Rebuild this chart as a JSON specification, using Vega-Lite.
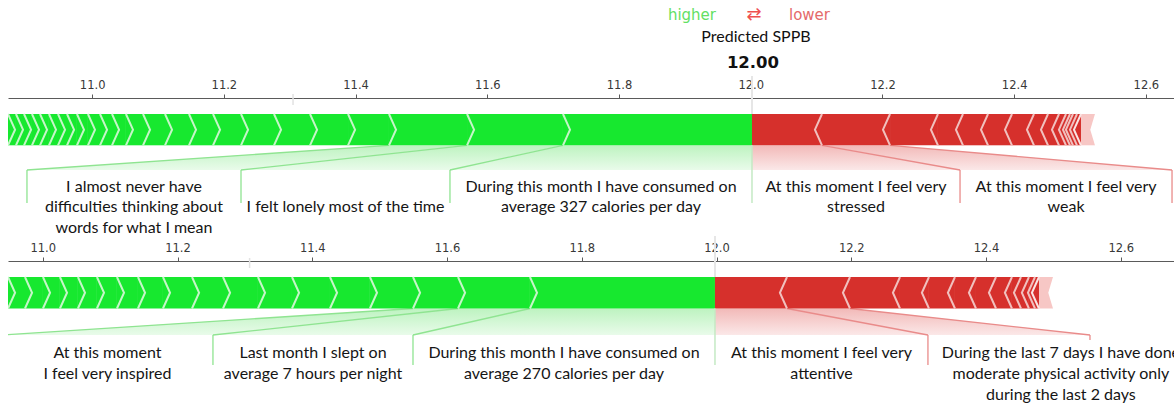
{
"$schema":"https://vega.github.io/schema/vega-lite/v6.json",
"width":1166,"height":405,
"autosize":{"type":"none"},
"padding":{"left":8,"top":0,"right":0,"bottom":0},
"background":"white",
"config":{"view":{"stroke":null},"axis":{"grid":false}},
"datasets":{
"predTop":[{"value":12.0019,"base":11.305}],
"predBot":[{"value":11.9977,"base":11.307}],
"segTop":[
{"side":"higher","rank":1,"x":11.7149,"x2":12.0019},
{"side":"higher","rank":2,"x":11.5692,"x2":11.7149},
{"side":"higher","rank":3,"x":11.4507,"x2":11.5692},
{"side":"higher","rank":4,"x":11.3885,"x2":11.4507},
{"side":"higher","rank":5,"x":11.3308,"x2":11.3885},
{"side":"higher","rank":6,"x":11.2761,"x2":11.3308},
{"side":"higher","rank":7,"x":11.226,"x2":11.2761},
{"side":"higher","rank":8,"x":11.1835,"x2":11.226},
{"side":"higher","rank":9,"x":11.147,"x2":11.1835},
{"side":"higher","rank":10,"x":11.1106,"x2":11.147},
{"side":"higher","rank":11,"x":11.0772,"x2":11.1106},
{"side":"higher","rank":12,"x":11.0513,"x2":11.0772},
{"side":"higher","rank":13,"x":11.0301,"x2":11.0513},
{"side":"higher","rank":14,"x":11.0119,"x2":11.0301},
{"side":"higher","rank":15,"x":10.9936,"x2":11.0119},
{"side":"higher","rank":16,"x":10.9769,"x2":10.9936},
{"side":"higher","rank":17,"x":10.9618,"x2":10.9769},
{"side":"higher","rank":18,"x":10.9481,"x2":10.9618},
{"side":"higher","rank":19,"x":10.9344,"x2":10.9481},
{"side":"higher","rank":20,"x":10.9208,"x2":10.9344},
{"side":"higher","rank":21,"x":10.9086,"x2":10.9208},
{"side":"higher","rank":22,"x":10.8965,"x2":10.9086},
{"side":"higher","rank":23,"x":10.8843,"x2":10.8965},
{"side":"higher","rank":24,"x":10.8722,"x2":10.8843},
{"side":"higher","rank":25,"x":10.86,"x2":10.8722},
{"side":"lower","rank":1,"x":12.0019,"x2":12.1082},
{"side":"lower","rank":2,"x":12.1082,"x2":12.2115},
{"side":"lower","rank":3,"x":12.2115,"x2":12.2843},
{"side":"lower","rank":4,"x":12.2843,"x2":12.3223},
{"side":"lower","rank":5,"x":12.3223,"x2":12.3603},
{"side":"lower","rank":6,"x":12.3603,"x2":12.3967},
{"side":"lower","rank":7,"x":12.3967,"x2":12.4301},
{"side":"lower","rank":8,"x":12.4301,"x2":12.4514},
{"side":"lower","rank":9,"x":12.4514,"x2":12.4681},
{"side":"lower","rank":10,"x":12.4681,"x2":12.4787},
{"side":"lower","rank":11,"x":12.4787,"x2":12.4848},
{"side":"lower","rank":12,"x":12.4848,"x2":12.4893},
{"side":"lower","rank":13,"x":12.4893,"x2":12.4954},
{"side":"lower","rank":14,"x":12.4954,"x2":12.5015},
{"side":"tail","rank":15,"x":12.5015,"x2":12.5227}
],
"segBot":[
{"side":"higher","rank":1,"x":11.7231,"x2":11.9977},
{"side":"higher","rank":2,"x":11.6163,"x2":11.7231},
{"side":"higher","rank":3,"x":11.5495,"x2":11.6163},
{"side":"higher","rank":4,"x":11.4856,"x2":11.5495},
{"side":"higher","rank":5,"x":11.4263,"x2":11.4856},
{"side":"higher","rank":6,"x":11.3699,"x2":11.4263},
{"side":"higher","rank":7,"x":11.3194,"x2":11.3699},
{"side":"higher","rank":8,"x":11.2675,"x2":11.3194},
{"side":"higher","rank":9,"x":11.2215,"x2":11.2675},
{"side":"higher","rank":10,"x":11.1784,"x2":11.2215},
{"side":"higher","rank":11,"x":11.1413,"x2":11.1784},
{"side":"higher","rank":12,"x":11.1101,"x2":11.1413},
{"side":"higher","rank":13,"x":11.0804,"x2":11.1101},
{"side":"higher","rank":14,"x":11.0522,"x2":11.0804},
{"side":"higher","rank":15,"x":11.0255,"x2":11.0522},
{"side":"higher","rank":16,"x":11.0003,"x2":11.0255},
{"side":"higher","rank":17,"x":10.9736,"x2":11.0003},
{"side":"higher","rank":18,"x":10.9484,"x2":10.9736},
{"side":"higher","rank":19,"x":10.93,"x2":10.9484},
{"side":"lower","rank":1,"x":11.9977,"x2":12.1046},
{"side":"lower","rank":2,"x":12.1046,"x2":12.1981},
{"side":"lower","rank":3,"x":12.1981,"x2":12.2723},
{"side":"lower","rank":4,"x":12.2723,"x2":12.3153},
{"side":"lower","rank":5,"x":12.3153,"x2":12.3539},
{"side":"lower","rank":6,"x":12.3539,"x2":12.3851},
{"side":"lower","rank":7,"x":12.3851,"x2":12.4148},
{"side":"lower","rank":8,"x":12.4148,"x2":12.4385},
{"side":"lower","rank":9,"x":12.4385,"x2":12.4519},
{"side":"lower","rank":10,"x":12.4519,"x2":12.4637},
{"side":"lower","rank":11,"x":12.4637,"x2":12.4727},
{"side":"lower","rank":12,"x":12.4727,"x2":12.4786},
{"side":"tail","rank":13,"x":12.4786,"x2":12.4994}
],
"featTop":[
{"feature":"A","side":"higher","b0":11.4507,"b1":11.5692,"l0":10.901,"l1":11.226},
{"feature":"B","side":"higher","b0":11.5692,"b1":11.7149,"l0":11.226,"l1":11.5433},
{"feature":"C","side":"higher","b0":11.7149,"b1":12.0019,"l0":11.5433,"l1":12.0019},
{"feature":"D","side":"lower","b0":12.0019,"b1":12.1082,"l0":12.0019,"l1":12.3178},
{"feature":"E","side":"lower","b0":12.1082,"b1":12.2115,"l0":12.3178,"l1":12.6397}
],
"featBot":[
{"feature":"F","side":"higher","b0":11.5495,"b1":11.6163,"l0":10.9394,"l1":11.2526},
{"feature":"G","side":"higher","b0":11.6163,"b1":11.7231,"l0":11.2526,"l1":11.5495},
{"feature":"H","side":"higher","b0":11.7231,"b1":11.9977,"l0":11.5495,"l1":11.9977},
{"feature":"I","side":"lower","b0":11.9977,"b1":12.1046,"l0":11.9977,"l1":12.3138},
{"feature":"J","side":"lower","b0":12.1046,"b1":12.1981,"l0":12.3138,"l1":12.5543}
],
"textTop":[
{"feature":"A","x":11.0635,"line":1,"text":"I almost never have"},
{"feature":"A","x":11.0635,"line":2,"text":"difficulties thinking about"},
{"feature":"A","x":11.0635,"line":3,"text":"words for what I mean"},
{"feature":"B","x":11.3847,"line":2,"text":"I felt lonely most of the time"},
{"feature":"C","x":11.7726,"line":1,"text":"During this month I have consumed on"},
{"feature":"C","x":11.7726,"line":2,"text":"average 327 calories per day"},
{"feature":"D","x":12.1599,"line":1,"text":"At this moment I feel very"},
{"feature":"D","x":12.1599,"line":2,"text":"stressed"},
{"feature":"E","x":12.4788,"line":1,"text":"At this moment I feel very"},
{"feature":"E","x":12.4788,"line":2,"text":"weak"}
],
"textBot":[
{"feature":"F","x":11.096,"line":1,"text":"At this moment"},
{"feature":"F","x":11.096,"line":2,"text":"I feel very inspired"},
{"feature":"G","x":11.4011,"line":1,"text":"Last month I slept on"},
{"feature":"G","x":11.4011,"line":2,"text":"average 7 hours per night"},
{"feature":"H","x":11.7736,"line":1,"text":"During this month I have consumed on"},
{"feature":"H","x":11.7736,"line":2,"text":"average 270 calories per day"},
{"feature":"I","x":12.1558,"line":1,"text":"At this moment I feel very"},
{"feature":"I","x":12.1558,"line":2,"text":"attentive"},
{"feature":"J","x":12.5112,"line":1,"text":"During the last 7 days I have done"},
{"feature":"J","x":12.5112,"line":2,"text":"moderate physical activity only"},
{"feature":"J","x":12.5112,"line":3,"text":"during the last 2 days"}
]
},
"resolve":{"scale":{"x":"independent","y":"independent"},"axis":{"x":"independent","y":"independent"}},
"layer":[
{"data":{"name":"featTop"},
 "transform":[{"filter":"datum.side == 'higher'"},{"fold":["b0","l0"],"as":["e0","x"]},{"fold":["b1","l1"],"as":["e1","x2"]},{"filter":"(datum.e0 == 'b0') == (datum.e1 == 'b1')"}],
 "mark":{"type":"area","orient":"horizontal","clip":true,"opacity":1,"color":{"gradient":"linear","x1":0,"y1":0,"x2":0,"y2":1,"stops":[{"offset":0,"color":"#bdf3c0"},{"offset":1,"color":"#e9fbea"}]}},
 "encoding":{
  "x":{"field":"x","type":"quantitative","stack":null,"scale":{"domain":[10.8722,12.6427],"nice":false,"zero":false},"axis":null},
  "x2":{"field":"x2"},
  "y":{"field":"e0","type":"nominal","scale":{"type":"point","domain":["b0","l0"],"range":[145.3,170],"padding":0},"axis":null},
  "detail":{"field":"feature"}}},
{"data":{"name":"featTop"},
 "transform":[{"filter":"datum.side == 'lower'"},{"fold":["b0","l0"],"as":["e0","x"]},{"fold":["b1","l1"],"as":["e1","x2"]},{"filter":"(datum.e0 == 'b0') == (datum.e1 == 'b1')"}],
 "mark":{"type":"area","orient":"horizontal","clip":true,"opacity":1,"color":{"gradient":"linear","x1":0,"y1":0,"x2":0,"y2":1,"stops":[{"offset":0,"color":"#f2b9b8"},{"offset":1,"color":"#fbe8e8"}]}},
 "encoding":{
  "x":{"field":"x","type":"quantitative","stack":null,"scale":{"domain":[10.8722,12.6427],"nice":false,"zero":false},"axis":null},
  "x2":{"field":"x2"},
  "y":{"field":"e0","type":"nominal","scale":{"type":"point","domain":["b0","l0"],"range":[145.3,170],"padding":0},"axis":null},
  "detail":{"field":"feature"}}},
{"data":{"name":"featTop"},"transform":[{"filter":"datum.side == 'higher'"}],
 "mark":{"type":"rule","color":"#8fe491","strokeWidth":1.3,"clip":true},
 "encoding":{"x":{"field":"b0","type":"quantitative","scale":{"domain":[10.8722,12.6427],"nice":false,"zero":false},"axis":null},"x2":{"field":"l0"},
  "y":{"datum":145.3,"type":"quantitative","scale":{"domain":[0,405],"reverse":true,"nice":false,"zero":false},"axis":null},"y2":{"datum":170}}},
{"data":{"name":"featTop"},"transform":[{"filter":"datum.side == 'higher'"}],
 "mark":{"type":"rule","color":"#8fe491","strokeWidth":1.3,"clip":true},
 "encoding":{"x":{"field":"l0","type":"quantitative","scale":{"domain":[10.8722,12.6427],"nice":false,"zero":false},"axis":null},
  "y":{"datum":170,"type":"quantitative","scale":{"domain":[0,405],"reverse":true,"nice":false,"zero":false},"axis":null},"y2":{"datum":203}}},
{"data":{"name":"featTop"},"transform":[{"filter":"datum.side == 'lower'"}],
 "mark":{"type":"rule","color":"#e98b8a","strokeWidth":1.3,"clip":true},
 "encoding":{"x":{"field":"b1","type":"quantitative","scale":{"domain":[10.8722,12.6427],"nice":false,"zero":false},"axis":null},"x2":{"field":"l1"},
  "y":{"datum":145.3,"type":"quantitative","scale":{"domain":[0,405],"reverse":true,"nice":false,"zero":false},"axis":null},"y2":{"datum":170}}},
{"data":{"name":"featTop"},"transform":[{"filter":"datum.side == 'lower'"}],
 "mark":{"type":"rule","color":"#e98b8a","strokeWidth":1.3,"clip":true},
 "encoding":{"x":{"field":"l1","type":"quantitative","scale":{"domain":[10.8722,12.6427],"nice":false,"zero":false},"axis":null},
  "y":{"datum":170,"type":"quantitative","scale":{"domain":[0,405],"reverse":true,"nice":false,"zero":false},"axis":null},"y2":{"datum":203}}},
{"data":{"name":"segTop"},"mark":{"type":"rect","clip":true},
 "encoding":{"x":{"field":"x","type":"quantitative","scale":{"domain":[10.8722,12.6427],"nice":false,"zero":false},
   "axis":{"orient":"top","offset":-98,"title":null,"values":[11,11.2,11.4,11.6,11.8,12,12.2,12.4,12.6],"format":".1f","domainColor":"#5a5a5a","domainWidth":1,"tickColor":"#5a5a5a","tickSize":4,"labelFont":"DejaVu Sans","labelFontSize":11.5,"labelColor":"#383838","labelPadding":4,"labelFlush":false,"labelOverlap":false,"grid":false}},
  "x2":{"field":"x2"},
  "y":{"datum":114,"type":"quantitative","scale":{"domain":[0,405],"reverse":true,"nice":false,"zero":false},"axis":null},"y2":{"datum":145.3},
  "fill":{"field":"side","type":"nominal","scale":{"domain":["higher","lower","tail"],"range":["#17e82f","#d6302c","#f7c7c5"]},"legend":null}}},
{"data":{"name":"predTop"},"mark":{"type":"rule","color":"#e6e6e6","strokeWidth":2},
 "encoding":{"x":{"field":"value","type":"quantitative","scale":{"domain":[10.8722,12.6427],"nice":false,"zero":false},"axis":null},
  "y":{"datum":76,"type":"quantitative","scale":{"domain":[0,405],"reverse":true,"nice":false,"zero":false},"axis":null},"y2":{"datum":114}}},
{"data":{"name":"predTop"},"mark":{"type":"rule","color":"#c4e9c4","strokeWidth":1.5},
 "encoding":{"x":{"field":"value","type":"quantitative","scale":{"domain":[10.8722,12.6427],"nice":false,"zero":false},"axis":null},
  "y":{"datum":145.3,"type":"quantitative","scale":{"domain":[0,405],"reverse":true,"nice":false,"zero":false},"axis":null},"y2":{"datum":203}}},
{"data":{"name":"predTop"},"mark":{"type":"rule","color":"#e2e2e2","strokeWidth":1.5},
 "encoding":{"x":{"field":"base","type":"quantitative","scale":{"domain":[10.8722,12.6427],"nice":false,"zero":false},"axis":null},
  "y":{"datum":94,"type":"quantitative","scale":{"domain":[0,405],"reverse":true,"nice":false,"zero":false},"axis":null},"y2":{"datum":105}}},
{"data":{"name":"segTop"},"transform":[{"filter":"datum.side == 'higher' || datum.rank > 1"}],
 "mark":{"type":"point","filled":false,"strokeWidth":2,"opacity":1,"size":980,"clip":true},
 "encoding":{"x":{"field":"x","type":"quantitative","scale":{"domain":[10.8722,12.6427],"nice":false,"zero":false},"axis":null},
  "y":{"datum":114,"type":"quantitative","scale":{"domain":[0,405],"reverse":true,"nice":false,"zero":false},"axis":null},
  "shape":{"field":"side","type":"nominal","scale":{"domain":["higher","lower","tail"],"range":["M 0 0 L 0.45 1 L 0 2","M 0 0 L -0.45 1 L 0 2","M 0 0 L -0.45 1 L 0 2"]},"legend":null},
  "stroke":{"field":"side","type":"nominal","scale":{"domain":["higher","lower","tail"],"range":["#c6f6c8","#f1c0be","#fbe3e2"]},"legend":null}}},
{"data":{"name":"segTop"},"transform":[{"filter":"datum.side == 'tail'"}],
 "mark":{"type":"point","filled":true,"color":"white","opacity":1,"size":980,"strokeWidth":0,"shape":"M 0 0 L -0.3 1 L 0 2 L 0.5 2 L 0.5 0 Z"},
 "encoding":{"x":{"field":"x2","type":"quantitative","scale":{"domain":[10.8722,12.6427],"nice":false,"zero":false},"axis":null},
  "y":{"datum":114,"type":"quantitative","scale":{"domain":[0,405],"reverse":true,"nice":false,"zero":false},"axis":null}}},
{"data":{"name":"predTop"},"mark":{"type":"text","text":"higher","font":"DejaVu Sans","fontSize":15,"color":"#63df63","align":"right","baseline":"alphabetic","dx":-36},
 "encoding":{"x":{"field":"value","type":"quantitative","scale":{"domain":[10.8722,12.6427],"nice":false,"zero":false},"axis":null},
  "y":{"datum":19.5,"type":"quantitative","scale":{"domain":[0,405],"reverse":true,"nice":false,"zero":false},"axis":null}}},
{"data":{"name":"predTop"},"mark":{"type":"text","text":"⇄","font":"DejaVu Sans","fontSize":18,"color":"#ef5050","align":"center","baseline":"alphabetic","dx":2},
 "encoding":{"x":{"field":"value","type":"quantitative","scale":{"domain":[10.8722,12.6427],"nice":false,"zero":false},"axis":null},
  "y":{"datum":20,"type":"quantitative","scale":{"domain":[0,405],"reverse":true,"nice":false,"zero":false},"axis":null}}},
{"data":{"name":"predTop"},"mark":{"type":"text","text":"lower","font":"DejaVu Sans","fontSize":15,"color":"#e46a6a","align":"left","baseline":"alphabetic","dx":37},
 "encoding":{"x":{"field":"value","type":"quantitative","scale":{"domain":[10.8722,12.6427],"nice":false,"zero":false},"axis":null},
  "y":{"datum":19.5,"type":"quantitative","scale":{"domain":[0,405],"reverse":true,"nice":false,"zero":false},"axis":null}}},
{"data":{"name":"predTop"},"mark":{"type":"text","text":"Predicted SPPB","font":"Lato","fontSize":16,"color":"#111111","align":"center","baseline":"alphabetic","dx":4},
 "encoding":{"x":{"field":"value","type":"quantitative","scale":{"domain":[10.8722,12.6427],"nice":false,"zero":false},"axis":null},
  "y":{"datum":42,"type":"quantitative","scale":{"domain":[0,405],"reverse":true,"nice":false,"zero":false},"axis":null}}},
{"data":{"name":"predTop"},"mark":{"type":"text","font":"DejaVu Sans","fontWeight":"bold","fontSize":16.5,"color":"#111111","align":"center","baseline":"alphabetic","dx":1},
 "encoding":{"x":{"field":"value","type":"quantitative","scale":{"domain":[10.8722,12.6427],"nice":false,"zero":false},"axis":null},
  "y":{"datum":68,"type":"quantitative","scale":{"domain":[0,405],"reverse":true,"nice":false,"zero":false},"axis":null},
  "text":{"field":"value","type":"quantitative","format":".2f"}}},
{"data":{"name":"textTop"},
 "mark":{"type":"text","font":"Lato","fontSize":16,"color":"#151515","align":"center","baseline":"alphabetic"},
 "encoding":{"x":{"field":"x","type":"quantitative","scale":{"domain":[10.8722,12.6427],"nice":false,"zero":false},"axis":null},
  "y":{"field":"line","type":"quantitative","scale":{"domain":[1,3],"range":[191.5,232.5],"nice":false,"zero":false},"axis":null},
  "text":{"field":"text"}}},

{"data":{"name":"featBot"},
 "transform":[{"filter":"datum.side == 'higher'"},{"fold":["b0","l0"],"as":["e0","x"]},{"fold":["b1","l1"],"as":["e1","x2"]},{"filter":"(datum.e0 == 'b0') == (datum.e1 == 'b1')"}],
 "mark":{"type":"area","orient":"horizontal","clip":true,"opacity":1,"color":{"gradient":"linear","x1":0,"y1":0,"x2":0,"y2":1,"stops":[{"offset":0,"color":"#bdf3c0"},{"offset":1,"color":"#e9fbea"}]}},
 "encoding":{
  "x":{"field":"x","type":"quantitative","stack":null,"scale":{"domain":[10.9484,12.679],"nice":false,"zero":false},"axis":null},
  "x2":{"field":"x2"},
  "y":{"field":"e0","type":"nominal","scale":{"type":"point","domain":["b0","l0"],"range":[308.5,335],"padding":0},"axis":null},
  "detail":{"field":"feature"}}},
{"data":{"name":"featBot"},
 "transform":[{"filter":"datum.side == 'lower'"},{"fold":["b0","l0"],"as":["e0","x"]},{"fold":["b1","l1"],"as":["e1","x2"]},{"filter":"(datum.e0 == 'b0') == (datum.e1 == 'b1')"}],
 "mark":{"type":"area","orient":"horizontal","clip":true,"opacity":1,"color":{"gradient":"linear","x1":0,"y1":0,"x2":0,"y2":1,"stops":[{"offset":0,"color":"#f2b9b8"},{"offset":1,"color":"#fbe8e8"}]}},
 "encoding":{
  "x":{"field":"x","type":"quantitative","stack":null,"scale":{"domain":[10.9484,12.679],"nice":false,"zero":false},"axis":null},
  "x2":{"field":"x2"},
  "y":{"field":"e0","type":"nominal","scale":{"type":"point","domain":["b0","l0"],"range":[308.5,335],"padding":0},"axis":null},
  "detail":{"field":"feature"}}},
{"data":{"name":"featBot"},"transform":[{"filter":"datum.side == 'higher'"}],
 "mark":{"type":"rule","color":"#8fe491","strokeWidth":1.3,"clip":true},
 "encoding":{"x":{"field":"b0","type":"quantitative","scale":{"domain":[10.9484,12.679],"nice":false,"zero":false},"axis":null},"x2":{"field":"l0"},
  "y":{"datum":308.5,"type":"quantitative","scale":{"domain":[0,405],"reverse":true,"nice":false,"zero":false},"axis":null},"y2":{"datum":335}}},
{"data":{"name":"featBot"},"transform":[{"filter":"datum.side == 'higher'"}],
 "mark":{"type":"rule","color":"#8fe491","strokeWidth":1.3,"clip":true},
 "encoding":{"x":{"field":"l0","type":"quantitative","scale":{"domain":[10.9484,12.679],"nice":false,"zero":false},"axis":null},
  "y":{"datum":335,"type":"quantitative","scale":{"domain":[0,405],"reverse":true,"nice":false,"zero":false},"axis":null},"y2":{"datum":365}}},
{"data":{"name":"featBot"},"transform":[{"filter":"datum.side == 'lower'"}],
 "mark":{"type":"rule","color":"#e98b8a","strokeWidth":1.3,"clip":true},
 "encoding":{"x":{"field":"b1","type":"quantitative","scale":{"domain":[10.9484,12.679],"nice":false,"zero":false},"axis":null},"x2":{"field":"l1"},
  "y":{"datum":308.5,"type":"quantitative","scale":{"domain":[0,405],"reverse":true,"nice":false,"zero":false},"axis":null},"y2":{"datum":335}}},
{"data":{"name":"featBot"},"transform":[{"filter":"datum.side == 'lower' && datum.feature != 'J'"}],
 "mark":{"type":"rule","color":"#e98b8a","strokeWidth":1.3,"clip":true},
 "encoding":{"x":{"field":"l1","type":"quantitative","scale":{"domain":[10.9484,12.679],"nice":false,"zero":false},"axis":null},
  "y":{"datum":335,"type":"quantitative","scale":{"domain":[0,405],"reverse":true,"nice":false,"zero":false},"axis":null},"y2":{"datum":365}}},
{"data":{"name":"featBot"},"transform":[{"filter":"datum.feature == 'J'"}],
 "mark":{"type":"rule","color":"#e98b8a","strokeWidth":1.3,"clip":true},
 "encoding":{"x":{"field":"l1","type":"quantitative","scale":{"domain":[10.9484,12.679],"nice":false,"zero":false},"axis":null},
  "y":{"datum":335,"type":"quantitative","scale":{"domain":[0,405],"reverse":true,"nice":false,"zero":false},"axis":null},"y2":{"datum":340}}},
{"data":{"name":"segBot"},"mark":{"type":"rect","clip":true},
 "encoding":{"x":{"field":"x","type":"quantitative","scale":{"domain":[10.9484,12.679],"nice":false,"zero":false},
   "axis":{"orient":"top","offset":-261,"title":null,"values":[11,11.2,11.4,11.6,11.8,12,12.2,12.4,12.6],"format":".1f","domainColor":"#5a5a5a","domainWidth":1,"tickColor":"#5a5a5a","tickSize":4,"labelFont":"DejaVu Sans","labelFontSize":11.5,"labelColor":"#383838","labelPadding":4,"labelFlush":false,"labelOverlap":false,"grid":false}},
  "x2":{"field":"x2"},
  "y":{"datum":277,"type":"quantitative","scale":{"domain":[0,405],"reverse":true,"nice":false,"zero":false},"axis":null},"y2":{"datum":308.5},
  "fill":{"field":"side","type":"nominal","scale":{"domain":["higher","lower","tail"],"range":["#17e82f","#d6302c","#f7c7c5"]},"legend":null}}},
{"data":{"name":"predBot"},"mark":{"type":"rule","color":"#e6e6e6","strokeWidth":2},
 "encoding":{"x":{"field":"value","type":"quantitative","scale":{"domain":[10.9484,12.679],"nice":false,"zero":false},"axis":null},
  "y":{"datum":236,"type":"quantitative","scale":{"domain":[0,405],"reverse":true,"nice":false,"zero":false},"axis":null},"y2":{"datum":277}}},
{"data":{"name":"predBot"},"mark":{"type":"rule","color":"#c4e9c4","strokeWidth":1.5},
 "encoding":{"x":{"field":"value","type":"quantitative","scale":{"domain":[10.9484,12.679],"nice":false,"zero":false},"axis":null},
  "y":{"datum":308.5,"type":"quantitative","scale":{"domain":[0,405],"reverse":true,"nice":false,"zero":false},"axis":null},"y2":{"datum":365}}},
{"data":{"name":"predBot"},"mark":{"type":"rule","color":"#e2e2e2","strokeWidth":1.5},
 "encoding":{"x":{"field":"base","type":"quantitative","scale":{"domain":[10.9484,12.679],"nice":false,"zero":false},"axis":null},
  "y":{"datum":258,"type":"quantitative","scale":{"domain":[0,405],"reverse":true,"nice":false,"zero":false},"axis":null},"y2":{"datum":268}}},
{"data":{"name":"segBot"},"transform":[{"filter":"datum.side == 'higher' || datum.rank > 1"}],
 "mark":{"type":"point","filled":false,"strokeWidth":2,"opacity":1,"size":992,"clip":true},
 "encoding":{"x":{"field":"x","type":"quantitative","scale":{"domain":[10.9484,12.679],"nice":false,"zero":false},"axis":null},
  "y":{"datum":277,"type":"quantitative","scale":{"domain":[0,405],"reverse":true,"nice":false,"zero":false},"axis":null},
  "shape":{"field":"side","type":"nominal","scale":{"domain":["higher","lower","tail"],"range":["M 0 0 L 0.45 1 L 0 2","M 0 0 L -0.45 1 L 0 2","M 0 0 L -0.45 1 L 0 2"]},"legend":null},
  "stroke":{"field":"side","type":"nominal","scale":{"domain":["higher","lower","tail"],"range":["#c6f6c8","#f1c0be","#fbe3e2"]},"legend":null}}},
{"data":{"name":"segBot"},"transform":[{"filter":"datum.side == 'tail'"}],
 "mark":{"type":"point","filled":true,"color":"white","opacity":1,"size":992,"strokeWidth":0,"shape":"M 0 0 L -0.3 1 L 0 2 L 0.5 2 L 0.5 0 Z"},
 "encoding":{"x":{"field":"x2","type":"quantitative","scale":{"domain":[10.9484,12.679],"nice":false,"zero":false},"axis":null},
  "y":{"datum":277,"type":"quantitative","scale":{"domain":[0,405],"reverse":true,"nice":false,"zero":false},"axis":null}}},
{"data":{"name":"textBot"},
 "mark":{"type":"text","font":"Lato","fontSize":16,"color":"#151515","align":"center","baseline":"alphabetic"},
 "encoding":{"x":{"field":"x","type":"quantitative","scale":{"domain":[10.9484,12.679],"nice":false,"zero":false},"axis":null},
  "y":{"field":"line","type":"quantitative","scale":{"domain":[1,3],"range":[358.3,399.7],"nice":false,"zero":false},"axis":null},
  "text":{"field":"text"}}}
]
}
